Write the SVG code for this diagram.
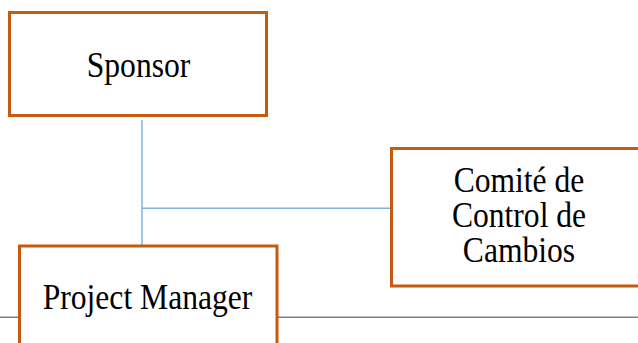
<svg xmlns="http://www.w3.org/2000/svg" width="638" height="343" viewBox="0 0 638 343">
<style>
.box{fill:#ffffff;stroke:#C55A11;stroke-width:3}
.lbl{font-family:"Liberation Serif","Times New Roman",serif;font-size:31.6px;fill:#000000;text-anchor:middle}
.conn{stroke:#7FB2E5;stroke-width:1.5;fill:none}
</style>
<rect width="638" height="343" fill="#ffffff"/>
<line x1="0" y1="317.3" x2="638" y2="317.3" stroke="#7F7F7F" stroke-width="1.6"/>
<g id="connectors">
<line class="conn" x1="142" y1="120" x2="142" y2="246"/>
<line class="conn" x1="142" y1="208.3" x2="391" y2="208.3"/>
</g>
<g id="sponsor">
<rect class="box" x="9.5" y="12.5" width="257" height="103"/>
<text class="lbl" transform="translate(138.5,76.7) scale(1,1.1)">Sponsor</text>
</g>
<g id="comite">
<rect class="box" x="391.5" y="148.5" width="255" height="137.5"/>
<text class="lbl" transform="translate(519,191.7) scale(1,1.1)">Comité de</text>
<text class="lbl" transform="translate(519,226.7) scale(1,1.1)">Control de</text>
<text class="lbl" transform="translate(519,261.7) scale(1,1.1)">Cambios</text>
</g>
<g id="project-manager">
<rect class="box" x="19.5" y="246" width="257.5" height="110"/>
<text class="lbl" transform="translate(147.5,309.3) scale(1,1.1)">Project Manager</text>
</g>
</svg>
